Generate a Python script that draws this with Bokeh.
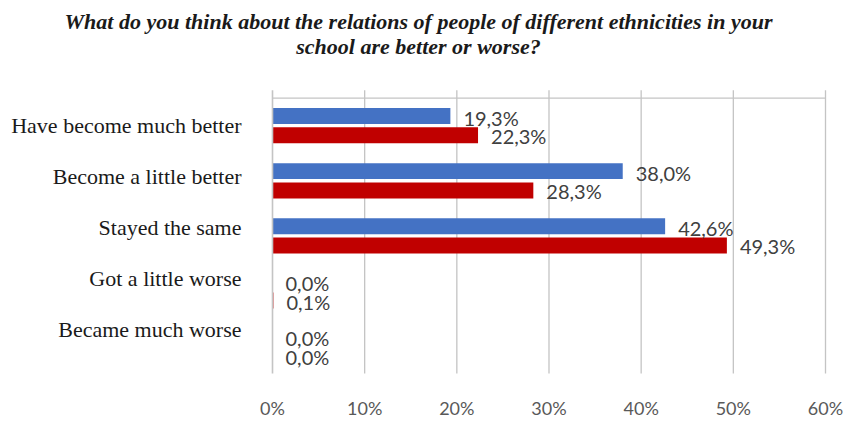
from bokeh.plotting import figure
from bokeh.models import ColumnDataSource, Range1d, FixedTicker, Label
from bokeh.transform import dodge
from bokeh.core.properties import value
from bokeh.embed import file_html
from bokeh.resources import INLINE

# ---------------- data ----------------
categories = [
    "Have become much better",
    "Become a little better",
    "Stayed the same",
    "Got a little worse",
    "Became much worse",
]
series_1 = [19.3, 38.0, 42.6, 0.0, 0.0]   # blue
series_2 = [22.3, 28.3, 49.3, 0.1, 0.0]   # red
x_ticks = [0, 10, 20, 30, 40, 50, 60]
x_tick_labels = ["0%", "10%", "20%", "30%", "40%", "50%", "60%"]
title_lines = [
    "What do you think about the relations of people of different ethnicities in your",
    "school are better or worse?",
]

# ---------------- layout helpers (page pixels -> data) ----------------
W, H = 845, 421
X0 = 272.0                       # page x of 0 %
PX_PER_PCT = (825.0 - 272.0) / 60.0
Y_TOP = 100.25                   # page y of top of first category band
CAT_H = 56.5                     # page px per category


def dx(px):
    return (px - X0) / PX_PER_PCT


def dy(py):
    return (py - Y_TOP) / CAT_H - 0.5


def fmt(v):
    return f"{v:.1f}".replace(".", ",") + "%"


idx = list(range(len(categories)))
src = ColumnDataSource(dict(
    y=idx,
    s1=series_1,
    s2=series_2,
    s1_lbl=[fmt(v) for v in series_1],
    s2_lbl=[fmt(v) for v in series_2],
))

BOTTOM_BORDER = 30
p = figure(
    width=W, height=H,
    x_range=Range1d(dx(0), dx(W)),
    y_range=Range1d(dy(H - BOTTOM_BORDER), dy(0)),
    output_backend="svg", toolbar_location=None,
    min_border_left=0, min_border_right=0, min_border_top=0,
    min_border_bottom=BOTTOM_BORDER,
)
p.outline_line_color = None
p.background_fill_color = "white"
p.border_fill_color = "white"
p.yaxis.visible = False
p.xgrid.visible = False
p.ygrid.visible = False

# x axis (tick labels only)
ax = p.xaxis[0]
ax.ticker = FixedTicker(ticks=x_ticks)
ax.major_label_overrides = {t: l for t, l in zip(x_ticks, x_tick_labels)}
ax.axis_line_color = None
ax.major_tick_line_color = None
ax.minor_tick_line_color = None
ax.major_label_standoff = 9
ax.major_label_text_font = "Lato"
ax.major_label_text_font_size = "18px"
ax.major_label_text_color = "#595959"

# gridlines
GRID = "#c4c4c4"
grid_top = -0.5 - 8.25 / CAT_H
grid_bottom = len(categories) - 0.5
p.segment(x0=x_ticks[1:], x1=x_ticks[1:], y0=[grid_top] * (len(x_ticks) - 1),
          y1=[grid_bottom] * (len(x_ticks) - 1), line_color=GRID, line_width=1.3)
p.segment(x0=[x_ticks[0]], x1=[x_ticks[-1]], y0=[-0.5], y1=[-0.5],
          line_color=GRID, line_width=1.3)

# bars
BAR_H = 0.29
OFF = 0.175
p.hbar(y=dodge("y", -OFF, range=p.y_range), left=0, right="s1", height=BAR_H,
       source=src, fill_color="#4472C4", line_color=None)
p.hbar(y=dodge("y", OFF, range=p.y_range), left=0, right="s2", height=BAR_H,
       source=src, fill_color="#C00000", line_color=None)

# value axis line at 0 %
p.segment(x0=[x_ticks[0]], x1=[x_ticks[0]], y0=[grid_top], y1=[grid_bottom],
          line_color=GRID, line_width=1.6)

# data labels
lbl_kw = dict(text_font=value("Lato"), text_font_size="20px", text_color="#404040",
              text_baseline="middle", text_align="left", x_offset=13)
p.text(x="s1", y=dodge("y", -OFF, range=p.y_range), text="s1_lbl", source=src,
       y_offset=2, **lbl_kw)
p.text(x="s2", y=dodge("y", OFF, range=p.y_range), text="s2_lbl", source=src,
       y_offset=1, **lbl_kw)

# category labels
lab_y = [dy(128 + 52.5 * i) for i in idx]
p.text(x=[dx(241)] * len(categories), y=lab_y, text=categories,
       text_font=value("Liberation Serif"), text_font_size="22px",
       text_color="#1a1a1a", text_align="right", text_baseline="middle")

# title
for line, py in zip(title_lines, [22, 47]):
    p.add_layout(Label(x=dx(418), y=dy(py), text=line,
                       text_font="Liberation Serif", text_font_style="bold italic",
                       text_font_size="22px", text_color="#1a1a1a",
                       text_align="center", text_baseline="middle"))

open("out.html", "w").write(file_html(p, INLINE))
